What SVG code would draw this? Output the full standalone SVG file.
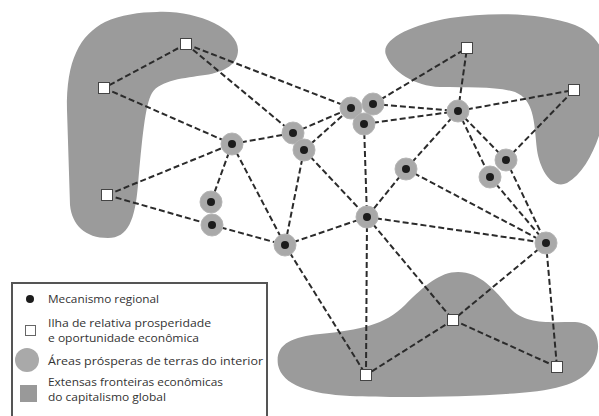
<svg xmlns="http://www.w3.org/2000/svg" width="599" height="416" viewBox="0 0 599 416">
<style>
.area{fill:#9b9b9b}
.edge{stroke:#2b2b2b;stroke-width:2;stroke-dasharray:6 3;fill:none}
.halo{fill:#a9a9a9;stroke:#b5b5b5;stroke-width:1}
.dot{fill:#1c1c1c}
.isle{fill:#fff;stroke:#444;stroke-width:1}
.lg{font-family:"Open Sans","Noto Sans",sans-serif;font-size:11px;fill:#333}
</style>
<rect width="599" height="416" fill="#fff"/>
<g id="areas">
<path class="area" d="M157,12 C195,10 238,28 238,50 C238,64 225,72 205,75 C185,78 160,80 152,93 C145,105 142,140 138,185 C135,220 128,238 108,238 C85,238 72,225 70,205 L67,110 C66,60 80,35 105,22 C120,15 140,12 157,12 Z"/>
<path class="area" d="M386,55 C380,40 410,25 450,18 C490,12 540,12 575,25 C600,35 612,60 608,95 C604,130 590,170 567,183 C552,190 540,170 537,150 C534,120 534,100 515,92 C495,86 470,88 440,87 C415,86 392,72 386,55 Z"/>
<path class="area" d="M278,365 C275,345 290,337 320,334 C360,330 385,325 405,305 C425,285 440,272 458,272 C480,272 495,290 510,308 C525,325 550,322 575,322 C595,323 602,340 596,358 C590,378 570,388 530,392 C480,397 400,398 350,396 C310,394 282,385 278,365 Z"/>
</g>
<g id="connectors">
<line class="edge" x1="186" y1="44" x2="104" y2="88"/>
<line class="edge" x1="186" y1="44" x2="351" y2="108"/>
<line class="edge" x1="186" y1="44" x2="293" y2="133"/>
<line class="edge" x1="104" y1="88" x2="232" y2="144"/>
<line class="edge" x1="107" y1="195" x2="232" y2="144"/>
<line class="edge" x1="107" y1="195" x2="212" y2="225"/>
<line class="edge" x1="212" y1="225" x2="285" y2="245"/>
<line class="edge" x1="232" y1="144" x2="293" y2="133"/>
<line class="edge" x1="232" y1="144" x2="211" y2="202"/>
<line class="edge" x1="232" y1="144" x2="285" y2="245"/>
<line class="edge" x1="293" y1="133" x2="351" y2="108"/>
<line class="edge" x1="304" y1="150" x2="351" y2="108"/>
<line class="edge" x1="304" y1="150" x2="285" y2="245"/>
<line class="edge" x1="304" y1="150" x2="367" y2="217"/>
<line class="edge" x1="364" y1="124" x2="367" y2="217"/>
<line class="edge" x1="364" y1="124" x2="458" y2="111"/>
<line class="edge" x1="373" y1="104" x2="458" y2="111"/>
<line class="edge" x1="373" y1="104" x2="467" y2="48"/>
<line class="edge" x1="458" y1="111" x2="467" y2="48"/>
<line class="edge" x1="458" y1="111" x2="574" y2="90"/>
<line class="edge" x1="458" y1="111" x2="406" y2="169"/>
<line class="edge" x1="458" y1="111" x2="506" y2="160"/>
<line class="edge" x1="458" y1="111" x2="490" y2="177"/>
<line class="edge" x1="506" y1="160" x2="574" y2="90"/>
<line class="edge" x1="506" y1="160" x2="546" y2="243"/>
<line class="edge" x1="490" y1="177" x2="546" y2="243"/>
<line class="edge" x1="406" y1="169" x2="367" y2="217"/>
<line class="edge" x1="406" y1="169" x2="546" y2="243"/>
<line class="edge" x1="367" y1="217" x2="546" y2="243"/>
<line class="edge" x1="367" y1="217" x2="285" y2="245"/>
<line class="edge" x1="367" y1="217" x2="366" y2="375"/>
<line class="edge" x1="367" y1="217" x2="453" y2="320"/>
<line class="edge" x1="285" y1="245" x2="366" y2="375"/>
<line class="edge" x1="546" y1="243" x2="453" y2="320"/>
<line class="edge" x1="546" y1="243" x2="557" y2="367"/>
<line class="edge" x1="453" y1="320" x2="366" y2="375"/>
<line class="edge" x1="453" y1="320" x2="557" y2="367"/>
</g>
<g id="D1"><circle class="halo" cx="351" cy="108" r="11"/><circle class="dot" cx="351" cy="108" r="4"/></g>
<g id="D2"><circle class="halo" cx="373" cy="104" r="11"/><circle class="dot" cx="373" cy="104" r="4"/></g>
<g id="D3"><circle class="halo" cx="364" cy="124" r="11"/><circle class="dot" cx="364" cy="124" r="4"/></g>
<g id="D4"><circle class="halo" cx="458" cy="111" r="11"/><circle class="dot" cx="458" cy="111" r="4"/></g>
<g id="D5"><circle class="halo" cx="293" cy="133" r="11"/><circle class="dot" cx="293" cy="133" r="4"/></g>
<g id="D6"><circle class="halo" cx="304" cy="150" r="11"/><circle class="dot" cx="304" cy="150" r="4"/></g>
<g id="D7"><circle class="halo" cx="232" cy="144" r="11"/><circle class="dot" cx="232" cy="144" r="4"/></g>
<g id="D8"><circle class="halo" cx="406" cy="169" r="11"/><circle class="dot" cx="406" cy="169" r="4"/></g>
<g id="D9"><circle class="halo" cx="506" cy="160" r="11"/><circle class="dot" cx="506" cy="160" r="4"/></g>
<g id="D10"><circle class="halo" cx="490" cy="177" r="11"/><circle class="dot" cx="490" cy="177" r="4"/></g>
<g id="D11"><circle class="halo" cx="211" cy="202" r="11"/><circle class="dot" cx="211" cy="202" r="4"/></g>
<g id="D12"><circle class="halo" cx="212" cy="225" r="11"/><circle class="dot" cx="212" cy="225" r="4"/></g>
<g id="D13"><circle class="halo" cx="367" cy="217" r="11"/><circle class="dot" cx="367" cy="217" r="4"/></g>
<g id="D14"><circle class="halo" cx="285" cy="245" r="11"/><circle class="dot" cx="285" cy="245" r="4"/></g>
<g id="D15"><circle class="halo" cx="546" cy="243" r="11"/><circle class="dot" cx="546" cy="243" r="4"/></g>
<g id="S1"><rect class="isle" x="180.5" y="38.5" width="11" height="11"/></g>
<g id="S2"><rect class="isle" x="98.5" y="82.5" width="11" height="11"/></g>
<g id="S3"><rect class="isle" x="101.5" y="189.5" width="11" height="11"/></g>
<g id="S4"><rect class="isle" x="461.5" y="42.5" width="11" height="11"/></g>
<g id="S5"><rect class="isle" x="568.5" y="84.5" width="11" height="11"/></g>
<g id="S6"><rect class="isle" x="447.5" y="314.5" width="11" height="11"/></g>
<g id="S7"><rect class="isle" x="360.5" y="369.5" width="11" height="11"/></g>
<g id="S8"><rect class="isle" x="551.5" y="361.5" width="11" height="11"/></g>
<g id="legend">
<rect x="12" y="283" width="255" height="140" fill="#fff" stroke="#555" stroke-width="2"/>
<circle cx="30" cy="299" r="4" class="dot"/>
<text class="lg" x="48" y="303" textLength="111" lengthAdjust="spacingAndGlyphs">Mecanismo regional</text>
<rect x="25.5" y="325.5" width="10" height="10" fill="#fff" stroke="#666" stroke-width="1"/>
<text class="lg" x="48" y="327" textLength="163" lengthAdjust="spacingAndGlyphs">Ilha de relativa prosperidade</text>
<text class="lg" x="48" y="342" textLength="151" lengthAdjust="spacingAndGlyphs">e oportunidade econômica</text>
<circle cx="27" cy="360" r="12" fill="#a9a9a9"/>
<text class="lg" x="48" y="365" textLength="215" lengthAdjust="spacingAndGlyphs">Áreas prósperas de terras do interior</text>
<rect x="20" y="385" width="17" height="17" fill="#999"/>
<text class="lg" x="48" y="386" textLength="175" lengthAdjust="spacingAndGlyphs">Extensas fronteiras econômicas</text>
<text class="lg" x="48" y="401" textLength="118" lengthAdjust="spacingAndGlyphs">do capitalismo global</text>
</g>
</svg>
